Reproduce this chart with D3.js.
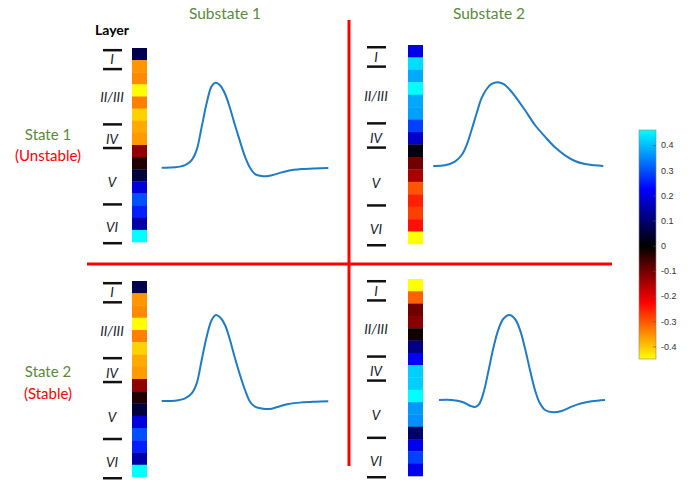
<!DOCTYPE html>
<html>
<head>
<meta charset="utf-8">
<script src="https://cdn.jsdelivr.net/npm/d3@7"></script>
<style>
  body { margin: 0; background: #fff; }
  text { font-family: Lato, "Open Sans", sans-serif; }
</style>
</head>
<body>
<script>
// layer labels, boundary ticks and label positions (in cell units, 0..16)
let layerNames = ["I", "II/III", "IV", "V", "VI"];
let layerLabelPos = [0.96, 4.1, 7.5, 11.1, 14.8];
let layerBounds = [0.18, 1.74, 6.3, 8.25, 12.9, 16.1];

// cell values per strip, top to bottom
let s1Sub1Cells = [0.07, -0.357, -0.347, -0.45, -0.338, -0.409, -0.375, -0.362, -0.127, -0.028, 0.056, 0.195, 0.299, 0.254, 0.15, 0.46];
let s1Sub2Cells = [0.203, 0.429, 0.382, 0.46, 0.38, 0.372, 0.284, 0.18, 0.015, -0.099, -0.15, -0.3, -0.253, -0.281, -0.239, -0.45];
let s2Sub1Cells = [0.07, -0.357, -0.347, -0.45, -0.338, -0.409, -0.375, -0.362, -0.127, -0.028, 0.056, 0.195, 0.299, 0.254, 0.15, 0.46];
let s2Sub2Cells = [-0.45, -0.31, -0.099, -0.12, -0.015, 0.113, 0.225, 0.417, 0.417, 0.46, 0.366, 0.358, 0.09, 0.21, 0.284, 0.21];

// waveforms [t, amplitude] (normalised time, peak = 1)
let s1Sub1Wave = [[0, 0], [0.08, 0.004], [0.14, 0.03], [0.18, 0.09], [0.21, 0.21], [0.24, 0.48], [0.27, 0.76], [0.30, 0.96], [0.324, 1.0], [0.35, 0.97], [0.38, 0.87], [0.41, 0.70], [0.44, 0.50], [0.47, 0.31], [0.50, 0.13], [0.53, 0.0], [0.56, -0.075], [0.60, -0.098], [0.64, -0.098], [0.70, -0.067], [0.76, -0.035], [0.84, -0.016], [0.92, -0.008], [1.0, -0.004]];
let s1Sub2Wave = [[0, 0], [0.069, 0.008], [0.127, 0.052], [0.167, 0.131], [0.196, 0.25], [0.225, 0.43], [0.255, 0.63], [0.284, 0.81], [0.314, 0.92], [0.343, 0.98], [0.378, 1.0], [0.412, 0.98], [0.451, 0.908], [0.49, 0.809], [0.539, 0.669], [0.598, 0.49], [0.657, 0.35], [0.716, 0.223], [0.775, 0.127], [0.833, 0.06], [0.892, 0.024], [0.951, 0.008], [1, 0]];
let s2Sub1Wave = [[0, 0], [0.08, 0.004], [0.14, 0.031], [0.18, 0.089], [0.21, 0.205], [0.24, 0.477], [0.27, 0.748], [0.30, 0.942], [0.326, 1.0], [0.35, 0.973], [0.38, 0.884], [0.41, 0.71], [0.44, 0.496], [0.47, 0.302], [0.50, 0.128], [0.53, -0.008], [0.56, -0.066], [0.62, -0.093], [0.66, -0.089], [0.70, -0.066], [0.76, -0.035], [0.84, -0.016], [0.92, -0.008], [1.0, -0.004]];
let s2Sub2Wave = [[0, 0], [0.076, 0], [0.137, -0.02], [0.187, -0.067], [0.217, -0.082], [0.241, -0.051], [0.267, 0.078], [0.297, 0.333], [0.327, 0.608], [0.357, 0.824], [0.387, 0.953], [0.424, 1.0], [0.458, 0.953], [0.488, 0.824], [0.518, 0.608], [0.548, 0.353], [0.578, 0.118], [0.608, -0.039], [0.639, -0.118], [0.689, -0.145], [0.739, -0.129], [0.799, -0.078], [0.859, -0.039], [0.92, -0.016], [1, 0]];

let colorTicks = [-0.4, -0.3, -0.2, -0.1, 0, 0.1, 0.2, 0.3, 0.4];

let width = 694, height = 480;
let green = "#5b8a3a", red = "#ff0000", lineBlue = "#1f7bc4";

let color = d3.scaleLinear()
  .domain([-0.45, -0.225, 0, 0.225, 0.46])
  .range(["#ffff00", "#ff0000", "#000000", "#0000ff", "#00ffff"])
  .clamp(true);

let svg = d3.select("body").append("svg")
  .attr("width", width)
  .attr("height", height);

let panels = [
  { cells: s1Sub1Cells, wave: s1Sub1Wave, strip: [132, 48, 15, 194], lab: 112, lines: [103, 122], w: [161.7, 328.3, 167.7, 82.7] },
  { cells: s1Sub2Cells, wave: s1Sub2Wave, strip: [408, 45, 15, 199], lab: 376, lines: [367, 386], w: [433.3, 603.3, 166, 82.3] },
  { cells: s2Sub1Cells, wave: s2Sub1Wave, strip: [132, 281, 15, 196], lab: 112, lines: [103, 122], w: [161.7, 328.3, 401, 315] },
  { cells: s2Sub2Cells, wave: s2Sub2Wave, strip: [408, 279, 15, 197], lab: 376, lines: [367, 386], w: [439, 605, 400, 315] }
];

panels.forEach(p => {
  let [sx, sy, sw, sh] = p.strip;
  let g = svg.append("g");

  let band = d3.scaleBand().domain(d3.range(p.cells.length)).range([sy, sy + sh]);
  g.selectAll("rect.cell")
    .data(p.cells)
    .enter().append("rect")
    .attr("class", "cell")
    .attr("x", sx)
    .attr("y", (d, i) => band(i))
    .attr("width", sw)
    .attr("height", band.bandwidth() + 0.3)
    .attr("fill", d => color(d));

  let depth = d3.scaleLinear().domain([0, 16]).range([sy, sy + sh]);
  g.selectAll("line.layer")
    .data(layerBounds)
    .enter().append("line")
    .attr("x1", p.lines[0]).attr("x2", p.lines[1])
    .attr("y1", d => depth(d)).attr("y2", d => depth(d))
    .attr("stroke", "#111")
    .attr("stroke-width", 2.5);

  g.selectAll("text.layer")
    .data(layerNames)
    .enter().append("text")
    .attr("x", p.lab)
    .attr("y", (d, i) => depth(layerLabelPos[i]))
    .attr("dy", "0.35em")
    .attr("text-anchor", "middle")
    .style("font-style", "italic")
    .style("font-size", "13.5px")
    .attr("fill", "#1a1a2a")
    .text(d => d);

  let x = d3.scaleLinear().domain([0, 1]).range([p.w[0], p.w[1]]);
  let y = d3.scaleLinear().domain([0, 1]).range([p.w[2], p.w[3]]);
  g.append("path")
    .datum(p.wave)
    .attr("fill", "none")
    .attr("stroke", lineBlue)
    .attr("stroke-width", 2)
    .attr("d", d3.line().x(d => x(d[0])).y(d => y(d[1])).curve(d3.curveCatmullRom.alpha(0.5)));
});

// divider lines
svg.append("line")
  .attr("x1", 87).attr("x2", 612).attr("y1", 264).attr("y2", 264)
  .attr("stroke", red).attr("stroke-width", 3);
svg.append("line")
  .attr("x1", 349).attr("x2", 349).attr("y1", 20).attr("y2", 466)
  .attr("stroke", red).attr("stroke-width", 3);

// titles
svg.append("text").attr("x", 225).attr("y", 19).attr("text-anchor", "middle")
  .style("font-size", "15.5px").attr("fill", green).text("Substate 1");
svg.append("text").attr("x", 489).attr("y", 19).attr("text-anchor", "middle")
  .style("font-size", "15.5px").attr("fill", green).text("Substate 2");
svg.append("text").attr("x", 112).attr("y", 35).attr("text-anchor", "middle")
  .style("font-size", "14px").style("font-weight", "bold").attr("fill", "#000").text("Layer");

svg.append("text").attr("x", 48).attr("y", 140).attr("text-anchor", "middle")
  .style("font-size", "15px").attr("fill", green).text("State 1");
svg.append("text").attr("x", 48).attr("y", 161).attr("text-anchor", "middle")
  .style("font-size", "15px").attr("fill", red).text("(Unstable)");
svg.append("text").attr("x", 48).attr("y", 377).attr("text-anchor", "middle")
  .style("font-size", "15px").attr("fill", green).text("State 2");
svg.append("text").attr("x", 48).attr("y", 399).attr("text-anchor", "middle")
  .style("font-size", "15px").attr("fill", red).text("(Stable)");

// colorbar
let cbX = 639, cbW = 17, cbTop = 130, cbBottom = 359;
let cbScale = d3.scaleLinear().domain([-0.45, 0.46]).range([cbBottom, cbTop]);
let defs = svg.append("defs");
let grad = defs.append("linearGradient").attr("id", "cbgrad")
  .attr("x1", 0).attr("y1", 1).attr("x2", 0).attr("y2", 0);
grad.selectAll("stop")
  .data(color.domain())
  .enter().append("stop")
  .attr("offset", d => (d - (-0.45)) / (0.46 - (-0.45)))
  .attr("stop-color", d => color(d));
svg.append("rect")
  .attr("x", cbX).attr("y", cbTop).attr("width", cbW).attr("height", cbBottom - cbTop)
  .attr("fill", "url(#cbgrad)")
  .attr("stroke", "#888").attr("stroke-width", 0.6);

let cbAxis = d3.axisRight(cbScale)
  .tickValues(colorTicks)
  .tickSize(-3)
  .tickPadding(5)
  .tickFormat(d => String(Math.round(d * 10) / 10));
let ag = svg.append("g").attr("transform", `translate(${cbX + cbW},0)`).call(cbAxis);
ag.select(".domain").remove();
ag.selectAll("line").attr("stroke", "#555").attr("stroke-width", 0.6);
ag.selectAll("text")
  .style("font-family", "Arial, 'Liberation Sans', sans-serif")
  .style("font-size", "9px")
  .attr("fill", "#333");
</script>
</body>
</html>
